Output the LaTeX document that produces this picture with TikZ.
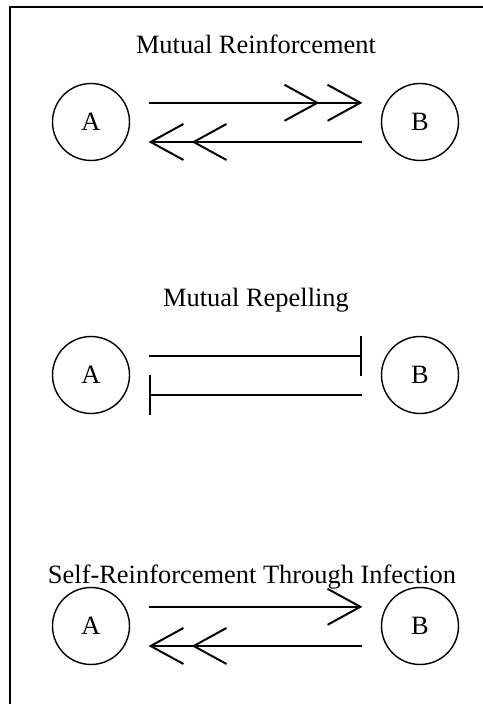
\documentclass[tikz,border=0pt]{standalone}
\usepackage{fontspec}
\setmainfont{Liberation Serif}
\usetikzlibrary{arrows.meta}

\begin{document}
\begin{tikzpicture}[font=\fontsize{18.8}{22}\selectfont,
  agent/.style={circle,draw,line width=1pt,minimum size=1.925cm,inner sep=0pt},
  link/.style={line width=1.4pt},
  push/.style={link,-{Straight Barb[length=.82cm,width=.9cm]}},
  pushpush/.style={link,-{Straight Barb[length=.82cm,width=.9cm,sep=.18cm]Straight Barb[length=.82cm,width=.9cm]}},
  block/.style={link,-{Bar[width=1cm,line width=1.4pt]}}]
\useasboundingbox (0,0) rectangle (12.075,17.6);
\draw[line width=1.4pt] (0.26,0) -- (0.26,17.425) -- (12.075,17.425);
% mutual reinforcement
\node (t1) at (6.4,16.5) {Mutual Reinforcement};
\node[agent] (a1) at (2.275,14.55) {A};
\node[agent] (b1) at (10.5,14.55) {B};
\draw[pushpush] ([xshift=.46cm,yshift=.48cm]a1.east) -- ([xshift=-.46cm,yshift=.48cm]b1.west);
\draw[pushpush] ([xshift=-.46cm,yshift=-.5cm]b1.west) -- ([xshift=.46cm,yshift=-.5cm]a1.east);
% mutual repelling
\node (t2) at (6.4,10.1) {Mutual Repelling};
\node[agent] (a2) at (2.275,8.225) {A};
\node[agent] (b2) at (10.5,8.225) {B};
\draw[block] ([xshift=.46cm,yshift=.48cm]a2.east) -- ([xshift=-.46cm,yshift=.48cm]b2.west);
\draw[block] ([xshift=-.46cm,yshift=-.5cm]b2.west) -- ([xshift=.46cm,yshift=-.5cm]a2.east);
% self-reinforcement
\node (t3) at (6.3,3.175) {Self-Reinforcement Through Infection};
\node[agent] (a3) at (2.275,1.95) {A};
\node[agent] (b3) at (10.5,1.95) {B};
\draw[push] ([xshift=.46cm,yshift=.48cm]a3.east) -- ([xshift=-.46cm,yshift=.48cm]b3.west);
\draw[pushpush] ([xshift=-.46cm,yshift=-.5cm]b3.west) -- ([xshift=.46cm,yshift=-.5cm]a3.east);
\end{tikzpicture}
\end{document}
